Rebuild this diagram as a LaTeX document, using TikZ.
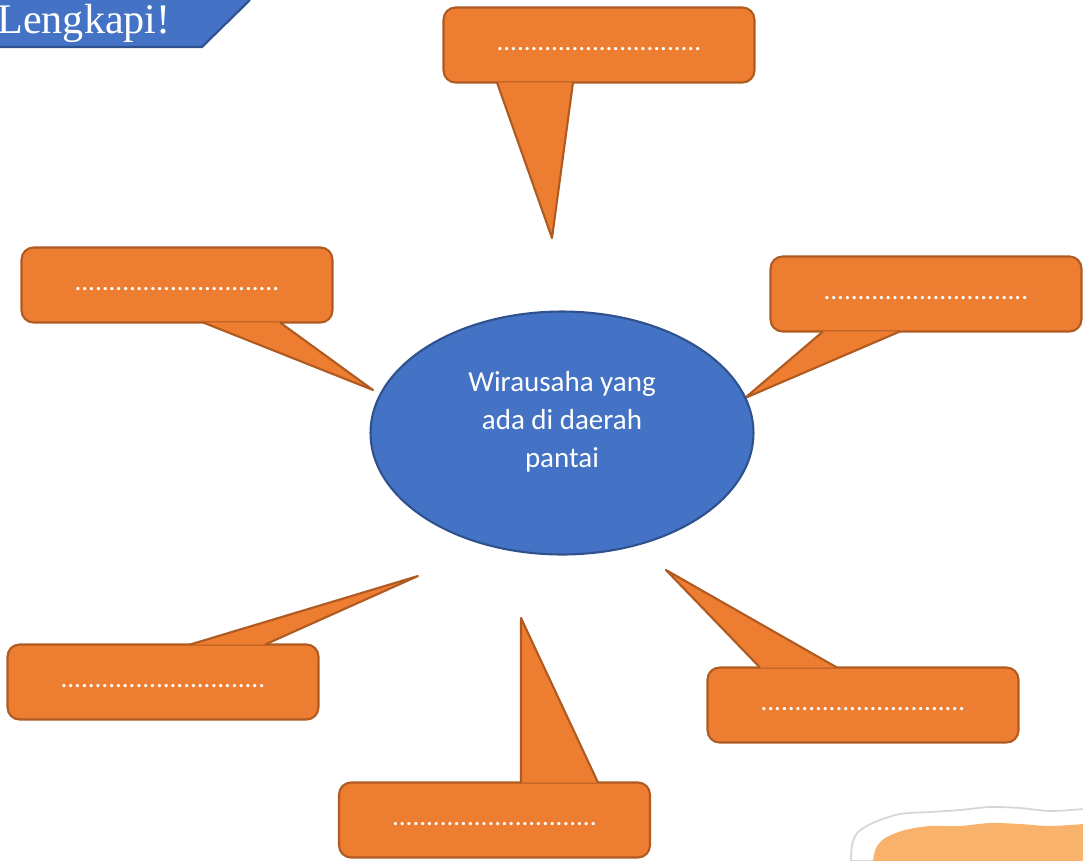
\documentclass[tikz,border=0pt]{standalone}
\usepackage{fontspec}
\setmainfont{Carlito}
\newfontfamily\titlefont{Liberation Serif}
\usetikzlibrary{shapes.geometric,calc}

\definecolor{bubbleorange}{HTML}{ED7D31}
\definecolor{bubbleedge}{HTML}{AE5A21}
\definecolor{hubblue}{HTML}{4472C4}
\definecolor{hubedge}{HTML}{2F528F}
\definecolor{paperorange}{HTML}{F8B26C}
\definecolor{paperedge}{HTML}{D6D6D6}

\newcommand{\blanks}{..............................}

\tikzset{
    bubble/.style={draw=bubbleedge, fill=bubbleorange, line width=1.2pt, rounded corners=0.24cm,
        minimum width=6.22cm, minimum height=1.5cm, inner sep=0pt, text=white,
        font=\fontsize{15.4}{18}\selectfont, text height=0.2cm, text depth=0pt},
    tail/.style={draw=bubbleedge, fill=bubbleorange, line width=1.2pt, line join=round},
    hub/.style={ellipse, draw=hubedge, fill=hubblue, line width=1.2pt,
        minimum width=7.66cm, minimum height=4.86cm, inner sep=0pt},
    hubtext/.style={align=center, text=white, inner sep=0pt, font=\fontsize{16.5}{21.6}\selectfont},
    titletext/.style={text=white, inner sep=0pt, font=\titlefont\fontsize{24}{28}\selectfont}
}

\begin{document}
\begin{tikzpicture}[x=0.02cm, y=-0.02cm]
    \useasboundingbox (0,0) rectangle (1083,860);

    % title tab
    \fill[hubblue] (0,0) -- (250,0) -- (202,47) -- (0,47) -- cycle;
    \draw[hubedge, line width=1.2pt] (250,0) -- (202,47) -- (0,47);
    \node[titletext, anchor=base west] (title) at (-3,33) {Lengkapi!};

    % scrap of paper, bottom right
    \filldraw[fill=white, draw=paperedge, line width=1pt] plot[smooth] coordinates {(851,861) (852,845) (858,832) (875,822) (900,814) (930,812) (960,810) (990,807) (1020,808) (1050,811) (1084,809)} -- (1084,861) -- cycle;
    \fill[paperorange] plot[smooth] coordinates {(873,861) (876,848) (885,838) (905,830) (930,826) (960,826) (990,823) (1020,824) (1050,826) (1084,824)} -- (1084,861) -- cycle;

    % tail tips
    \coordinate (tiptop) at (552,238);
    \coordinate (tipleft) at (373,390);
    \coordinate (tipright) at (745,398);
    \coordinate (tiplowleft) at (418,576);
    \coordinate (tipbottom) at (521,618);
    \coordinate (tiplowright) at (666,570);

    % speech bubbles
    \node[bubble] (top) at (599,45) {\blanks};
    \node[bubble] (left) at (177,285) {\blanks};
    \node[bubble] (right) at (926,294) {\blanks};
    \node[bubble] (lowleft) at (163,682) {\blanks};
    \node[bubble] (bottom) at (494.5,820) {\blanks};
    \node[bubble] (lowright) at (863,705) {\blanks};

    \path[tail] ($(top.south)+(-102,-1.1)$) -- (tiptop) -- ($(top.south)+(-26,-1.1)$);
    \path[tail] ($(left.south)+(26,-1.1)$) -- (tipleft) -- ($(left.south)+(103,-1.1)$);
    \path[tail] ($(right.south)+(-103,-1.1)$) -- (tipright) -- ($(right.south)+(-26,-1.1)$);
    \path[tail] ($(lowleft.north)+(27,1.1)$) -- (tiplowleft) -- ($(lowleft.north)+(102,1.1)$);
    \path[tail] ($(bottom.north)+(26.5,1.1)$) -- (tipbottom) -- ($(bottom.north)+(103.5,1.1)$);
    \path[tail] ($(lowright.north)+(-103,1.1)$) -- (tiplowright) -- ($(lowright.north)+(-26,1.1)$);

    % centre
    \node[hub] (hub) at (562,433) {};
    \node[hubtext] (hublabel) at (562,422) {Wirausaha yang\\ada di daerah\\pantai};
\end{tikzpicture}
\end{document}
